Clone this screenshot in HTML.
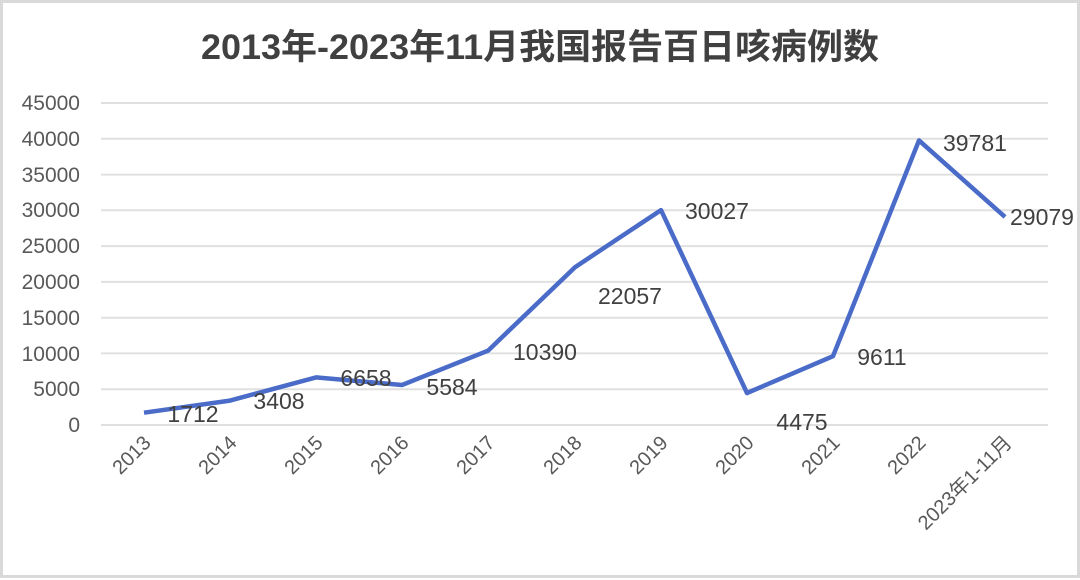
<!DOCTYPE html>
<html><head><meta charset="utf-8"><style>
body{margin:0;background:#fff}
svg{display:block}
</style></head><body>
<svg width="1080" height="580" xmlns="http://www.w3.org/2000/svg" font-family="'Liberation Sans','Noto Sans CJK SC',sans-serif">
<rect x="1.5" y="1.5" width="1077" height="575" fill="#fff" stroke="#d9d9d9" stroke-width="3"/>
<text x="540" y="59" text-anchor="middle" font-size="35" font-weight="bold" fill="#404040" textLength="678" lengthAdjust="spacingAndGlyphs">2013年-2023年11月我国报告百日咳病例数</text>
<g stroke="#e0e0e0" stroke-width="2">
<line x1="101" x2="1048" y1="103" y2="103"/><line x1="101" x2="1048" y1="138.8" y2="138.8"/>
<line x1="101" x2="1048" y1="174.6" y2="174.6"/><line x1="101" x2="1048" y1="210.3" y2="210.3"/>
<line x1="101" x2="1048" y1="246.1" y2="246.1"/><line x1="101" x2="1048" y1="281.9" y2="281.9"/>
<line x1="101" x2="1048" y1="317.7" y2="317.7"/><line x1="101" x2="1048" y1="353.4" y2="353.4"/>
<line x1="101" x2="1048" y1="389.2" y2="389.2"/><line x1="101" x2="1048" y1="425" y2="425"/>
</g>
<g font-size="21" fill="#595959" text-anchor="end">
<text x="80" y="110">45000</text><text x="80" y="146">40000</text><text x="80" y="182">35000</text>
<text x="80" y="217">30000</text><text x="80" y="253">25000</text><text x="80" y="289">20000</text>
<text x="80" y="325">15000</text><text x="80" y="361">10000</text><text x="80" y="396">5000</text>
<text x="80" y="432">0</text>
</g>
<polyline fill="none" stroke="#4a6cc8" stroke-width="4.5" stroke-linejoin="round" points="144,412.7 230,400.6 316,377.4 402,385.0 488,350.7 575,267.2 661,210.1 747,393.0 833,356.2 919,140.4 1005,216.9"/>
<g font-size="23" fill="#404040" text-anchor="middle">
<text x="193" y="422">1712</text><text x="279" y="409">3408</text><text x="366" y="386">6658</text>
<text x="452" y="395">5584</text><text x="545" y="360">10390</text><text x="630" y="304">22057</text>
<text x="717" y="219">30027</text><text x="802" y="430">4475</text><text x="882" y="365">9611</text>
<text x="975" y="151">39781</text><text x="1042" y="225">29079</text>
</g>
<g font-size="20" fill="#595959" text-anchor="end">
<text transform="translate(152,444) rotate(-45)">2013</text>
<text transform="translate(238,444) rotate(-45)">2014</text>
<text transform="translate(324,444) rotate(-45)">2015</text>
<text transform="translate(410,444) rotate(-45)">2016</text>
<text transform="translate(496,444) rotate(-45)">2017</text>
<text transform="translate(583,444) rotate(-45)">2018</text>
<text transform="translate(669,444) rotate(-45)">2019</text>
<text transform="translate(755,444) rotate(-45)">2020</text>
<text transform="translate(841,444) rotate(-45)">2021</text>
<text transform="translate(927,444) rotate(-45)">2022</text>
<text transform="translate(1013,444) rotate(-45)">2023年1-11月</text>
</g>
</svg>
</body></html>
